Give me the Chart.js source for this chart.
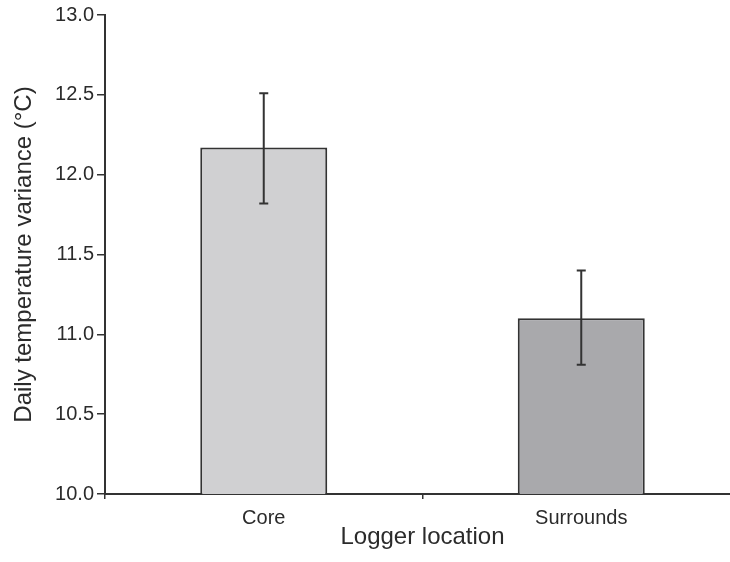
<!DOCTYPE html>
<html>
<head>
<meta charset="utf-8">
<script src="https://cdn.jsdelivr.net/npm/chart.js@4"></script>
<style>
    html, body { margin: 0; padding: 0; background: #fff; overflow: hidden; }
    #wrap { width: 750px; height: 562px; }
</style>
</head>
<body>
<div id="wrap"><canvas id="barChart" width="750" height="562"></canvas></div>
<script>
// 데이터
const categories = ['Core', 'Surrounds'];
const meanValues = [12.17, 11.10];
const errLow = [11.82, 10.81];
const errHigh = [12.51, 11.40];
const yTicks = [10.0, 10.5, 11.0, 11.5, 12.0, 12.5, 13.0];

const textColor = '#2b2b2b';
const lineColor = '#333333';

// 오차 막대 플러그인
const errorBarPlugin = {
    id: 'errorBars',
    afterDatasetsDraw(chart) {
        const ctx = chart.ctx;
        const x = chart.scales.x;
        const y = chart.scales.y;
        ctx.save();
        ctx.strokeStyle = lineColor;
        ctx.lineWidth = 2;
        categories.forEach((c, i) => {
            const px = x.getPixelForValue(i);
            const top = y.getPixelForValue(errHigh[i]);
            const bot = y.getPixelForValue(errLow[i]);
            ctx.beginPath();
            ctx.moveTo(px, top); ctx.lineTo(px, bot);
            ctx.moveTo(px - 4.5, top); ctx.lineTo(px + 4.5, top);
            ctx.moveTo(px - 4.5, bot); ctx.lineTo(px + 4.5, bot);
            ctx.stroke();
        });
        ctx.restore();
    }
};

const ctx = document.getElementById('barChart').getContext('2d');
new Chart(ctx, {
    type: 'bar',
    data: {
        labels: categories,
        datasets: [{
            data: meanValues,
            backgroundColor: ['#d0d0d2', '#a9a9ac'],
            borderColor: lineColor,
            borderWidth: 2,
            categoryPercentage: 1.0,
            barPercentage: 0.4
        }]
    },
    options: {
        responsive: false,
        animation: false,
        layout: { padding: { top: 15, right: 10, left: 0, bottom: 0 } },
        plugins: { legend: { display: false }, tooltip: { enabled: false } },
        scales: {
            x: {
                grid: { drawOnChartArea: false, drawTicks: true, tickLength: 5, color: lineColor, lineWidth: 1.5 },
                border: { color: lineColor, width: 2 },
                ticks: { color: textColor, padding: 7, font: { family: 'Liberation Sans, Arial', size: 20 } },
                title: {
                    display: true, text: 'Logger location', color: textColor,
                    font: { family: 'Liberation Sans, Arial', size: 24 },
                    padding: { top: 0, bottom: 10 }
                },
                afterFit(scale) { scale.height = 68; }
            },
            y: {
                min: 10, max: 13,
                afterBuildTicks(scale) { scale.ticks = yTicks.map(v => ({ value: v })); },
                grid: { drawOnChartArea: false, drawTicks: true, tickLength: 8, color: lineColor, lineWidth: 1.5 },
                border: { color: lineColor, width: 2 },
                ticks: {
                    color: textColor, padding: 3,
                    font: { family: 'Liberation Sans, Arial', size: 20 },
                    callback: v => Number(v).toFixed(1)
                },
                title: {
                    display: true, text: 'Daily temperature variance (°C)', color: textColor,
                    font: { family: 'Liberation Sans, Arial', size: 24 },
                    padding: { top: 10, bottom: 0 }
                },
                afterFit(scale) { scale.width = 105; }
            }
        }
    },
    plugins: [errorBarPlugin]
});
</script>
</body>
</html>
